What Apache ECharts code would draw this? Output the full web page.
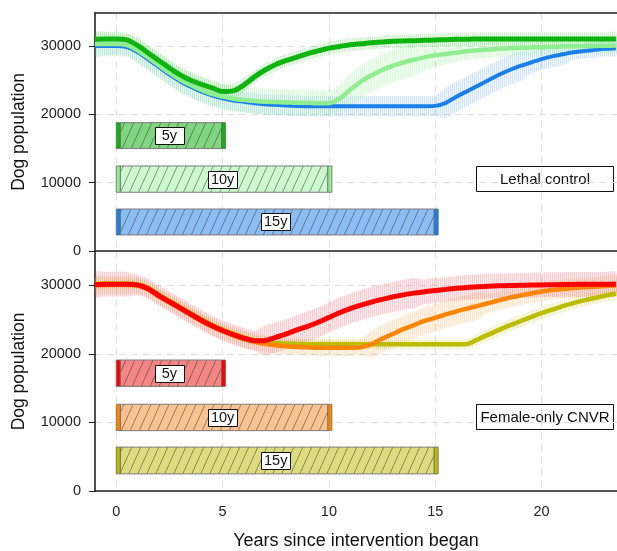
<!DOCTYPE html>
<html>
<head>
<meta charset="utf-8">
<script src="https://cdn.jsdelivr.net/npm/echarts@6/dist/echarts.min.js"></script>
<style>
html, body { margin: 0; padding: 0; background: #fff; }
#chart { width: 617px; height: 551px; }
</style>
</head>
<body>
<div id="chart"></div>
<script>
// Time since the intervention started (years)
const years = [-1,-0.5,0,0.5,1,1.5,2,2.5,3,3.5,4,4.5,5,5.5,6,6.5,7,7.5,8,8.5,9,9.5,10,10.5,11,11.5,12,12.5,13,13.5,14,14.5,15,15.5,16,16.5,17,17.5,18,18.5,19,19.5,20,20.5,21,21.5,22,22.5,23,23.5];

// Lethal control: mean dog population for 5, 10 and 15 year programmes
const lethal5  = [31000,31050,31050,30900,30100,29000,27900,26800,25800,25000,24400,23900,23350,23450,24300,25500,26500,27300,27900,28400,28900,29300,29700,29950,30200,30350,30500,30600,30700,30750,30800,30850,30900,30950,31000,31000,31050,31050,31050,31050,31050,31050,31050,31050,31050,31050,31050,31050,31050,31050];
const lethal10 = [30300,30300,30300,30150,29400,28300,27200,26100,25100,24300,23600,23000,22600,22300,22100,21950,21850,21800,21750,21700,21700,21650,21650,22300,23600,24800,25700,26500,27100,27600,28000,28350,28650,28850,29050,29250,29400,29500,29600,29680,29750,29800,29850,29900,29950,29980,30000,30030,30050,30080];
const lethal15 = [30000,30000,30000,29850,29150,28050,26950,25850,24850,24050,23350,22800,22350,22050,21850,21650,21500,21400,21300,21250,21200,21200,21200,21200,21200,21200,21200,21200,21200,21200,21200,21200,21250,21700,22600,23400,24200,25000,25800,26500,27100,27600,28100,28500,28800,29100,29300,29450,29600,29700];

// Half-width of the uncertainty band around each lethal-control curve
const lethal5Spread  = [900,900,900,900,1100,1100,1100,1100,1100,1100,1100,1100,1100,1100,1100,950,950,950,950,950,950,950,950,950,950,950,950,950,950,950,950,950,950,950,950,950,950,950,950,950,950,950,950,950,950,950,950,950,950,950];
const lethal10Spread = [1800,1800,1800,1800,1900,1900,1900,1900,1900,1900,1900,1900,1900,1900,1900,1900,1900,1900,1900,1900,1900,1900,1900,2000,2400,2400,2400,2400,2400,2400,2400,2000,1700,1500,1400,1200,1200,1200,1200,1200,1200,1200,1200,1200,1200,1200,1200,1200,1200,1200];
const lethal15Spread = [1300,1300,1300,1300,1500,1500,1500,1500,1500,1500,1500,1500,1500,1500,1500,1500,1500,1500,1500,1500,1500,1500,1500,1500,1500,1500,1500,1500,1500,1500,1500,1500,1500,2200,2200,2200,2200,2200,2200,2200,2200,1600,1600,1600,1600,1100,1100,1100,1100,1100];

// Female-only CNVR: mean dog population for 5, 10 and 15 year programmes
const cnvr5  = [30100,30150,30150,30150,30050,29500,28500,27600,26700,25800,24900,24100,23400,22800,22300,21900,21950,22400,22900,23500,24000,24600,25300,26000,26600,27100,27550,27950,28300,28600,28850,29050,29250,29400,29550,29680,29800,29870,29920,29960,30000,30030,30050,30080,30100,30120,30150,30150,30150,30150];
const cnvr10 = [30000,30050,30050,30050,29950,29400,28400,27500,26600,25700,24800,24000,23300,22700,22150,21750,21450,21250,21100,21000,20950,20900,20900,20900,20900,20950,21400,22200,22900,23600,24200,24800,25250,25750,26200,26600,27000,27400,27800,28200,28500,28800,29100,29300,29450,29600,29700,29800,29900,29950];
const cnvr15 = [30200,30250,30250,30250,30150,29650,28650,27750,26850,25950,25050,24250,23550,22950,22400,22000,21750,21600,21500,21450,21400,21400,21400,21400,21400,21400,21400,21400,21400,21400,21400,21400,21400,21400,21400,21450,22100,22800,23500,24150,24750,25350,25950,26450,26950,27400,27800,28150,28500,28800];

// Half-width of the uncertainty band around each CNVR curve
const cnvr5Spread  = [1800,1800,1800,1800,1500,1500,1500,1500,1500,1500,1500,1500,1500,1500,1500,1500,2200,2200,2200,2200,2200,2200,2200,2200,2200,2200,2200,2200,2200,2200,2200,1800,1800,1800,1800,1800,1800,1800,1800,1800,1800,1800,1800,1800,1800,1800,1800,1800,1800,1800];
const cnvr10Spread = [1300,1300,1300,1300,1200,1200,1200,1200,1200,1200,1200,1200,1200,1200,1200,1200,1200,1200,1200,1200,1200,1200,1200,1200,1200,1200,2000,2000,2000,2000,2000,2000,2000,2000,2000,2000,2000,1400,1400,1400,1400,1400,1400,1400,1400,1400,1400,1400,1400,1400];
const cnvr15Spread = [800,800,800,800,700,700,700,700,700,700,700,700,700,700,700,700,700,700,700,700,700,700,700,700,700,700,700,700,700,700,700,700,700,700,700,700,900,900,900,900,900,900,900,900,900,900,900,900,900,900];

// Intervention periods (start year, end year) drawn as bars
const barLabels = ['5y', '10y', '15y'];
const barStart = [0, 0, 0];
const barEnd = [5, 10, 15];
const lethalBarLow  = [15000, 8600, 2350];
const lethalBarHigh = [18800, 12450, 6150];
const cnvrBarLow  = [15250, 8800, 2500];
const cnvrBarHigh = [19100, 12650, 6400];

// Axis ticks
const xTicks = [0, 5, 10, 15, 20];
const yTicks = [0, 10000, 20000, 30000];

const FONT = '"Liberation Sans", Arial, sans-serif';
const X_MIN = -1, X_MAX = 23.55, Y_MAX = 34850;

const colors = {
  lethal: ['#0db40d', '#90ee90', '#1a7fe8'],
  cnvr:   ['#ff0000', '#ff8400', '#bcbc00']
};
const bandRgb = {
  lethal: ['110,220,110', '150,240,150', '120,180,250'],
  cnvr:   ['255,100,110', '255,175,90', '205,215,70']
};
const barFill = {
  lethal: ['#80d680', '#cdf7cd', '#8bbcf2'],
  cnvr:   ['#f38585', '#f9c291', '#dcdc7e']
};

function stripePattern(rgb) {
  const c = document.createElement('canvas');
  c.width = 2; c.height = 4;
  const g = c.getContext('2d');
  g.fillStyle = 'rgba(' + rgb + ',0.34)';
  g.fillRect(0, 0, 1, 4);
  g.fillStyle = 'rgba(' + rgb + ',0.10)';
  g.fillRect(1, 0, 1, 4);
  return { image: c, repeat: 'repeat' };
}

function hatchPattern(fill) {
  const w = 9, h = 20;
  const c = document.createElement('canvas');
  c.width = w; c.height = h;
  const g = c.getContext('2d');
  g.fillStyle = fill;
  g.fillRect(0, 0, w, h);
  g.strokeStyle = 'rgba(45,45,45,0.6)';
  g.lineWidth = 0.8;
  g.beginPath();
  [-w, 0, w].forEach(function (dx) { g.moveTo(dx, h); g.lineTo(dx + w, 0); });
  g.stroke();
  return { image: c, repeat: 'repeat' };
}

function bandSeries(gi, center, spread, rgb) {
  const rows = years.map(function (x, i) { return [x, center[i] - spread[i], center[i] + spread[i]]; });
  const pattern = stripePattern(rgb);
  return {
    type: 'custom', xAxisIndex: gi, yAxisIndex: gi, clip: true, silent: true, z: 1,
    data: rows,
    encode: { x: 0, y: [1, 2] },
    renderItem: function (params, api) {
      if (params.dataIndex !== 0) return null;
      const upper = rows.map(function (r) { return api.coord([r[0], r[2]]); });
      const lower = rows.map(function (r) { return api.coord([r[0], r[1]]); }).reverse();
      return {
        type: 'polygon',
        shape: { points: upper.concat(lower), smooth: 0.25 },
        style: { fill: pattern, stroke: null }
      };
    }
  };
}

function lineSeries(gi, values, color, width) {
  return {
    type: 'line', xAxisIndex: gi, yAxisIndex: gi, silent: true, z: 3,
    data: years.map(function (x, i) { return [x, values[i]]; }),
    symbol: 'none', smooth: 0.3,
    lineStyle: { color: color, width: width, cap: 'butt', join: 'round' }
  };
}

function barSeries(gi, low, high, caps, fills) {
  const hatches = fills.map(hatchPattern);
  return {
    type: 'custom', xAxisIndex: gi, yAxisIndex: gi, silent: true, z: 4,
    data: barLabels.map(function (l, i) { return [barStart[i], barEnd[i], low[i], high[i]]; }),
    encode: { x: [0, 1], y: [2, 3] },
    renderItem: function (params, api) {
      const i = params.dataIndex;
      const a = api.coord([api.value(0), api.value(3)]);
      const b = api.coord([api.value(1), api.value(2)]);
      const x0 = a[0], x1 = b[0], y0 = a[1], y1 = b[1];
      const h = y1 - y0, capW = 4;
      const cx = (x0 + x1) / 2, cy = (y0 + y1) / 2;
      return {
        type: 'group',
        children: [
          { type: 'rect', shape: { x: x0 + capW, y: y0, width: x1 - 1 - x0 - capW, height: h },
            style: { fill: hatches[i], stroke: '#7c7c7c', lineWidth: 1 } },
          { type: 'rect', shape: { x: x0, y: y0, width: capW, height: h },
            style: { fill: caps[i], stroke: '#6a6a6a', lineWidth: 0.8 } },
          { type: 'rect', shape: { x: x1 - 1, y: y0, width: capW, height: h },
            style: { fill: caps[i], stroke: '#6a6a6a', lineWidth: 0.8 } },
          { type: 'rect', shape: { x: Math.round(cx - 14.5) + 0.5, y: Math.round(cy - 8.5) + 0.5, width: 29, height: 17 },
            style: { fill: '#fff', stroke: '#111', lineWidth: 1 } },
          { type: 'text', x: cx, y: cy + 0.5,
            style: { text: barLabels[i], fill: '#111', font: '14.5px ' + FONT, align: 'center', verticalAlign: 'middle' } }
        ]
      };
    }
  };
}

function panelLabel(text, top) {
  return {
    type: 'group', left: 476, top: top,
    children: [
      { type: 'rect', shape: { x: 0.5, y: 0.5, width: 137, height: 25 },
        style: { fill: '#fff', stroke: '#111', lineWidth: 1 } },
      { type: 'text', x: 69, y: 13.5,
        style: { text: text, fill: '#111', font: '15px ' + FONT, align: 'center', verticalAlign: 'middle' } }
    ]
  };
}

const gridLine = { show: true, lineStyle: { color: '#dedede', width: 1, type: [7, 5] } };
const axisLineStyle = { color: '#222', width: 1.6 };

function xAxis(gi, withLabels) {
  return {
    type: 'value', gridIndex: gi, min: X_MIN, max: X_MAX, position: 'bottom',
    axisLine: { show: true, onZero: false, lineStyle: axisLineStyle },
    axisTick: { show: false, customValues: xTicks },
    axisLabel: withLabels
      ? { show: true, customValues: xTicks, fontSize: 14.5, color: '#222', margin: 13, fontFamily: FONT }
      : { show: false, customValues: xTicks },
    splitLine: gridLine,
    name: withLabels ? 'Years since intervention began' : '',
    nameLocation: 'middle', nameGap: 41,
    nameTextStyle: { fontSize: 18, color: '#111', fontFamily: FONT }
  };
}

function yAxis(gi) {
  return {
    type: 'value', gridIndex: gi, min: 0, max: Y_MAX,
    axisLine: { show: true, onZero: false, lineStyle: axisLineStyle },
    axisTick: { show: true, length: 6, customValues: yTicks, lineStyle: { color: '#222', width: 1 } },
    axisLabel: { customValues: yTicks, fontSize: 14.5, color: '#222', margin: 14, fontFamily: FONT,
                 formatter: function (v) { return String(v); } },
    splitLine: gridLine,
    name: 'Dog population', nameLocation: 'middle', nameGap: 67,
    nameTextStyle: { fontSize: 17.5, color: '#111', fontFamily: FONT }
  };
}

const chart = echarts.init(document.getElementById('chart'), null, { renderer: 'canvas' });
chart.setOption({
  animation: false,
  backgroundColor: '#fff',
  textStyle: { fontFamily: FONT },
  grid: [
    { left: 95, right: 0, top: 13, height: 238 },
    { left: 95, right: 0, top: 252, height: 239 }
  ],
  xAxis: [
    xAxis(0, false),
    xAxis(1, true),
    { type: 'value', gridIndex: 0, min: X_MIN, max: X_MAX, position: 'top',
      axisLine: { show: true, onZero: false, lineStyle: axisLineStyle },
      axisTick: { show: false }, axisLabel: { show: false }, splitLine: { show: false } }
  ],
  yAxis: [yAxis(0), yAxis(1)],
  graphic: [
    panelLabel('Lethal control', 166),
    panelLabel('Female-only CNVR', 404)
  ],
  series: [
    bandSeries(0, lethal15, lethal15Spread, bandRgb.lethal[2]),
    bandSeries(0, lethal10, lethal10Spread, bandRgb.lethal[1]),
    bandSeries(0, lethal5, lethal5Spread, bandRgb.lethal[0]),
    lineSeries(0, lethal15, colors.lethal[2], 4),
    lineSeries(0, lethal10, colors.lethal[1], 4.5),
    lineSeries(0, lethal5, colors.lethal[0], 5),
    barSeries(0, lethalBarLow, lethalBarHigh, colors.lethal, barFill.lethal),

    bandSeries(1, cnvr15, cnvr15Spread, bandRgb.cnvr[2]),
    bandSeries(1, cnvr10, cnvr10Spread, bandRgb.cnvr[1]),
    bandSeries(1, cnvr5, cnvr5Spread, bandRgb.cnvr[0]),
    lineSeries(1, cnvr15, colors.cnvr[2], 4.5),
    lineSeries(1, cnvr10, colors.cnvr[1], 4.5),
    lineSeries(1, cnvr5, colors.cnvr[0], 5),
    barSeries(1, cnvrBarLow, cnvrBarHigh, colors.cnvr, barFill.cnvr)
  ]
});
</script>
</body>
</html>
